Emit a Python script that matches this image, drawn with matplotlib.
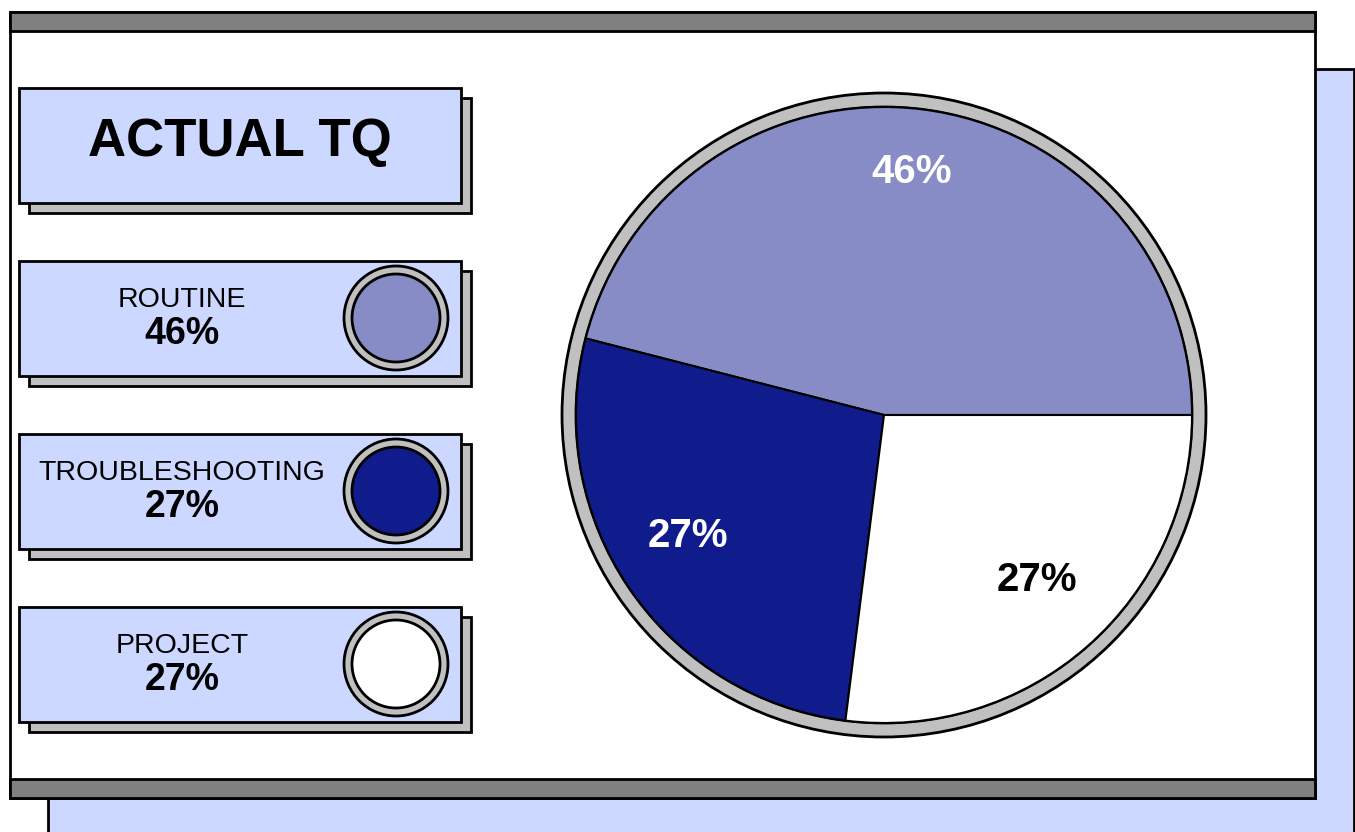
import matplotlib.pyplot as plt
from matplotlib.patches import Rectangle, Circle

plt.rcParams["font.family"] = ["Liberation Sans", "DejaVu Sans"]

categories = ["ROUTINE", "TROUBLESHOOTING", "PROJECT"]
shares = [46, 27, 27]
colors = ["#888cc6", "#101c8c", "#ffffff"]
pct_colors = ["white", "white", "black"]
title = "ACTUAL TQ"

W, H = 1355, 832
fig = plt.figure(figsize=(W / 100, H / 100), dpi=100)
ax = fig.add_axes([0, 0, 1, 1])


def fy(y):
    # picture rows -> y-up axis coords
    return H - y


def box(x0, y0, x1, y1, fc, ec="black", lw=2, z=1):
    ax.add_patch(Rectangle((x0, fy(y1)), x1 - x0, y1 - y0, fc=fc, ec=ec, lw=lw, zorder=z))


# background panels
box(48, 69, 1354, 860, "#ccd8ff", z=0)
box(10, 12, 1315, 798, "white", z=1)
box(10, 12, 1315, 31, "#808080", z=2)
box(10, 779, 1315, 798, "#808080", z=2)

# title box
box(29, 98, 471, 213, "#c0c0c0", z=3)
box(19, 88, 461, 203, "#ccd8ff", z=4)
ax.text(240, fy(142), title, ha="center", va="center", fontsize=38,
        fontweight="bold", zorder=5)

# legend boxes
tops = [261, 434, 607]
for top, cat, val, col in zip(tops, categories, shares, colors):
    box(29, top + 10, 471, top + 125, "#c0c0c0", z=3)
    box(19, top, 461, top + 115, "#ccd8ff", z=4)
    cy = top + 57
    ax.add_patch(Circle((396, fy(cy)), 52, fc="#c0c0c0", ec="black", lw=2, zorder=5))
    ax.add_patch(Circle((396, fy(cy)), 44, fc=col, ec="black", lw=2, zorder=6))
    ax.text(182, fy(top + 39), cat, ha="center", va="center", fontsize=20.5, zorder=6)
    ax.text(182, fy(top + 73), f"{val}%", ha="center", va="center", fontsize=27,
            fontweight="bold", zorder=6)

# pie
cx, cy = 884, fy(415)
ax.add_patch(Circle((cx, cy), 322, fc="#c0c0c0", ec="black", lw=2, zorder=5))
ax.add_patch(Circle((cx, cy), 308, fc="white", ec="black", lw=2, zorder=5))
wedges, texts, autotexts = ax.pie(
    shares, colors=colors, startangle=0, counterclock=True,
    center=(cx, cy), radius=308, autopct="%.0f%%", pctdistance=0.76,
    wedgeprops=dict(edgecolor="black", linewidth=1.5, zorder=6),
    textprops=dict(fontsize=29, fontweight="bold", zorder=7))
for t, c in zip(autotexts, pct_colors):
    t.set_color(c)
    t.set_zorder(7)
    x, y = t.get_position()
    t.set_position((x - 2, y + 11))
for w in wedges:
    w.set_zorder(6)

ax.set_xlim(0, W)
ax.set_ylim(0, H)
ax.set_aspect("auto")
ax.axis("off")

plt.savefig("out.png", dpi=100)
